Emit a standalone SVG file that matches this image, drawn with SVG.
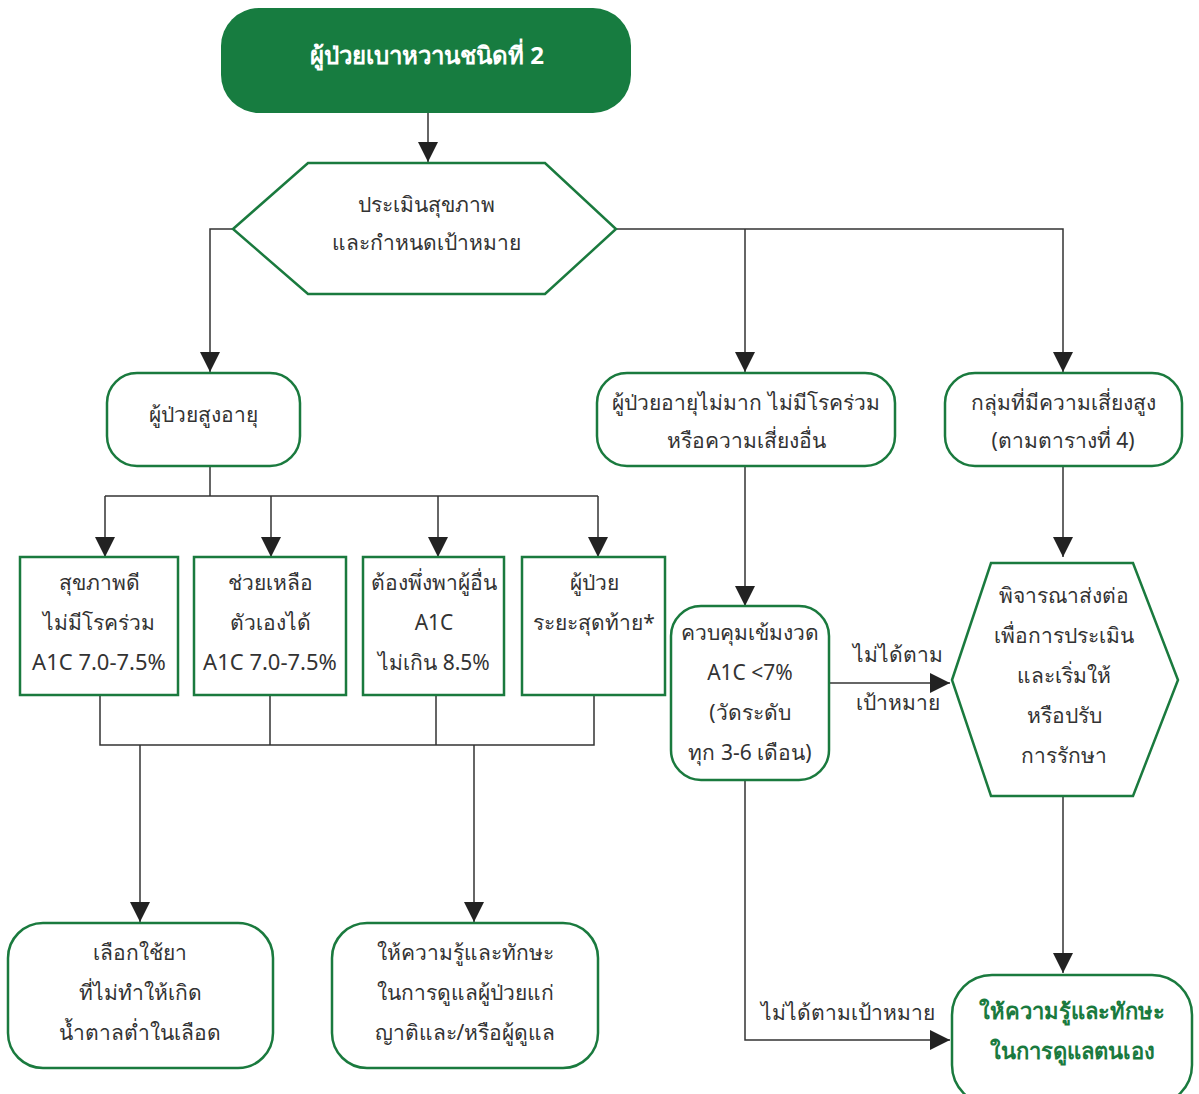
<svg xmlns="http://www.w3.org/2000/svg" width="1199" height="1094" viewBox="0 0 1199 1094">
<style>
.n{fill:#fff;stroke:#1a7a3e;stroke-width:2.5}
.t{font-family:"Noto Sans","DejaVu Sans",sans-serif;font-size:21px;fill:#333;text-anchor:middle}
.c{fill:none;stroke:#333;stroke-width:1.5}
.g{fill:#1a7a3e;font-weight:bold;font-size:22px}
</style>
<defs>
<marker id="a" viewBox="0 0 20 20" refX="20" refY="10" markerWidth="20" markerHeight="20" markerUnits="userSpaceOnUse" orient="auto"><path d="M0,0L20,10L0,20z" fill="#222"/></marker>
</defs>
<g id="connectors">
<path class="c" d="M428,113V162" marker-end="url(#a)"/>
<path class="c" d="M233,229H210V372" marker-end="url(#a)"/>
<path class="c" d="M616,229H1063V372" marker-end="url(#a)"/>
<path class="c" d="M745,229V372" marker-end="url(#a)"/>
<path class="c" d="M210,466V496"/>
<path class="c" d="M105,496H598"/>
<path class="c" d="M105,496V557" marker-end="url(#a)"/>
<path class="c" d="M271,496V557" marker-end="url(#a)"/>
<path class="c" d="M438,496V557" marker-end="url(#a)"/>
<path class="c" d="M598,496V557" marker-end="url(#a)"/>
<path class="c" d="M100,695V745H594V695M270,695V745M436,695V745"/>
<path class="c" d="M140,745V922" marker-end="url(#a)"/>
<path class="c" d="M474,745V922" marker-end="url(#a)"/>
<path class="c" d="M745,466V606" marker-end="url(#a)"/>
<path class="c" d="M829,683H950" marker-end="url(#a)"/>
<path class="c" d="M1063,466V557" marker-end="url(#a)"/>
<path class="c" d="M1063,796V973" marker-end="url(#a)"/>
<path class="c" d="M745,780V1040H950" marker-end="url(#a)"/>
<text class="t" x="898" y="662">ไม่ได้ตาม</text>
<text class="t" x="898" y="710">เป้าหมาย</text>
<text class="t" x="848" y="1020">ไม่ได้ตามเป้าหมาย</text>
</g>
<g id="start">
<rect x="221" y="8" width="410" height="105" rx="38" fill="#177c40"/>
<text class="t" x="427" y="64" style="fill:#fff;font-weight:bold;font-size:24px">ผู้ป่วยเบาหวานชนิดที่ 2</text>
</g>
<g id="assess">
<polygon class="n" points="233,229 308,163 545,163 616,229 545,294 308,294"/>
<text class="t" x="426" y="212">ประเมินสุขภาพ</text>
<text class="t" x="426" y="250">และกำหนดเป้าหมาย</text>
</g>
<g id="elderly">
<rect class="n" x="107" y="373" width="193" height="93" rx="30"/>
<text class="t" x="203" y="422">ผู้ป่วยสูงอายุ</text>
</g>
<g id="young">
<rect class="n" x="597" y="373" width="298" height="93" rx="30"/>
<text class="t" x="746" y="410">ผู้ป่วยอายุไม่มาก ไม่มีโรคร่วม</text>
<text class="t" x="746" y="448">หรือความเสี่ยงอื่น</text>
</g>
<g id="highrisk">
<rect class="n" x="945" y="373" width="237" height="93" rx="30"/>
<text class="t" x="1063" y="410">กลุ่มที่มีความเสี่ยงสูง</text>
<text class="t" x="1063" y="448">(ตามตารางที่ 4)</text>
</g>
<g id="healthy">
<rect class="n" x="20" y="557" width="158" height="138"/>
<text class="t" x="99" y="590">สุขภาพดี</text>
<text class="t" x="99" y="630">ไม่มีโรคร่วม</text>
<text class="t" x="99" y="670" style="font-size:22px">A1C 7.0-7.5%</text>
</g>
<g id="selfcare">
<rect class="n" x="194" y="557" width="152" height="138"/>
<text class="t" x="270" y="590">ช่วยเหลือ</text>
<text class="t" x="270" y="630">ตัวเองได้</text>
<text class="t" x="270" y="670" style="font-size:22px">A1C 7.0-7.5%</text>
</g>
<g id="dependent">
<rect class="n" x="363" y="557" width="141" height="138"/>
<text class="t" x="434" y="590">ต้องพึ่งพาผู้อื่น</text>
<text class="t" x="434" y="630">A1C</text>
<text class="t" x="434" y="670">ไม่เกิน 8.5%</text>
</g>
<g id="terminal">
<rect class="n" x="522" y="557" width="143" height="138"/>
<text class="t" x="594" y="590">ผู้ป่วย</text>
<text class="t" x="594" y="630">ระยะสุดท้าย*</text>
</g>
<g id="strict">
<rect class="n" x="671" y="606" width="158" height="174" rx="30"/>
<text class="t" x="750" y="640">ควบคุมเข้มงวด</text>
<text class="t" x="750" y="680">A1C &lt;7%</text>
<text class="t" x="750" y="720">(วัดระดับ</text>
<text class="t" x="750" y="760">ทุก 3-6 เดือน)</text>
</g>
<g id="refer">
<polygon class="n" points="952,680 991,563 1133,563 1178,680 1133,796 991,796"/>
<text class="t" x="1064" y="603">พิจารณาส่งต่อ</text>
<text class="t" x="1064" y="643">เพื่อการประเมิน</text>
<text class="t" x="1064" y="683">และเริ่มให้</text>
<text class="t" x="1064" y="723">หรือปรับ</text>
<text class="t" x="1064" y="763">การรักษา</text>
</g>
<g id="drug">
<rect class="n" x="8" y="923" width="265" height="145" rx="35"/>
<text class="t" x="140" y="960">เลือกใช้ยา</text>
<text class="t" x="140" y="1000">ที่ไม่ทำให้เกิด</text>
<text class="t" x="140" y="1040">น้ำตาลต่ำในเลือด</text>
</g>
<g id="caregiver">
<rect class="n" x="332" y="923" width="266" height="145" rx="35"/>
<text class="t" x="465" y="960">ให้ความรู้และทักษะ</text>
<text class="t" x="465" y="1000">ในการดูแลผู้ป่วยแก่</text>
<text class="t" x="465" y="1040">ญาติและ/หรือผู้ดูแล</text>
</g>
<g id="selfmgmt">
<rect class="n" x="952" y="975" width="240" height="130" rx="40"/>
<text class="t g" x="1072" y="1019">ให้ความรู้และทักษะ</text>
<text class="t g" x="1072" y="1059">ในการดูแลตนเอง</text>
</g>
</svg>
